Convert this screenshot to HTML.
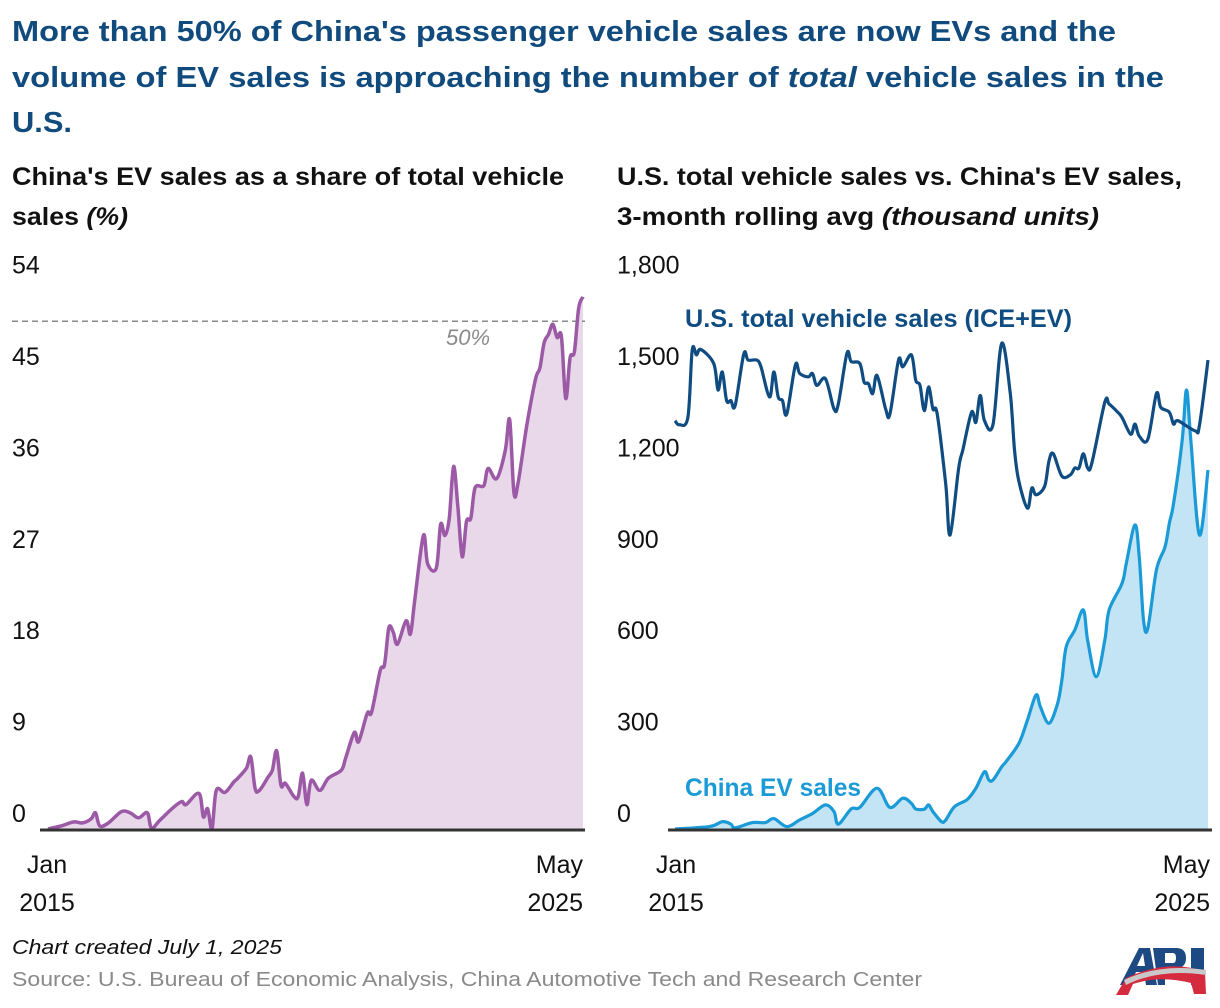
<!DOCTYPE html>
<html><head><meta charset="utf-8"><style>
html,body{margin:0;padding:0;background:#fff;}
svg{display:block;font-family:"Liberation Sans",sans-serif;}
</style></head><body>
<svg id="chart" width="1220" height="1008" viewBox="0 0 1220 1008">
<g fill="#114b7e" font-weight="bold" font-size="29">
<text x="12" y="41" textLength="1104" lengthAdjust="spacingAndGlyphs">More than 50% of China's passenger vehicle sales are now EVs and the</text>
<text x="12" y="87" textLength="1152" lengthAdjust="spacingAndGlyphs">volume of EV sales is approaching the number of <tspan font-style="italic">total</tspan> vehicle sales in the</text>
<text x="12" y="132" textLength="60" lengthAdjust="spacingAndGlyphs">U.S.</text>
</g>
<g font-weight="bold" font-size="25" fill="#111">
<text x="12" y="185" textLength="552" lengthAdjust="spacingAndGlyphs">China's EV sales as a share of total vehicle</text>
<text x="12" y="225" textLength="116" lengthAdjust="spacingAndGlyphs">sales <tspan font-style="italic">(%)</tspan></text>
</g>
<g font-weight="bold" font-size="25" fill="#111">
<text x="617" y="185" textLength="565" lengthAdjust="spacingAndGlyphs">U.S. total vehicle sales vs. China's EV sales,</text>
<text x="617" y="225" textLength="482" lengthAdjust="spacingAndGlyphs">3-month rolling avg <tspan font-style="italic">(thousand units)</tspan></text>
</g>
<g id="left"></g>
<g id="right"></g>
<text x="12" y="954" font-size="20" font-style="italic" fill="#111" textLength="270" lengthAdjust="spacingAndGlyphs">Chart created July 1, 2025</text>
<text x="12" y="986" font-size="20" fill="#8a8a8a" textLength="910" lengthAdjust="spacingAndGlyphs">Source: U.S. Bureau of Economic Analysis, China Automotive Tech and Research Center</text>
<g>
<polygon points="1120,985 1139,948 1150,948 1157,985 1146,985 1144,972 1136,972 1130,985" fill="#1d4a83"/>
<polygon points="1137,966 1143,953 1145,966" fill="#fff"/>
<path d="M1153,948 L1176,948 Q1186,948 1186,958 Q1186,968 1176,968 L1165,968 L1165,985 L1158,985 Z" fill="#1d4a83"/>
<path d="M1165,953 L1173,953 Q1176,953 1176,958 Q1176,963 1173,963 L1165,963 Z" fill="#fff"/>
<rect x="1191" y="948" width="13" height="37" fill="#1d4a83"/>
<path d="M1116,995 L1126,978 Q1160,962 1192,968 L1205,972 L1206,994 L1194,994 L1191,983 Q1160,975 1133,984 L1128,995 Z" fill="#d52b3e"/>
<path d="M1124,980 Q1160,963 1206,970 L1206,975 Q1160,968 1126,985 Z" fill="#c9c9c9"/>
</g>
</svg>
<script>
// ---- Left chart data: China EV share of total vehicle sales (%) ----
const shareMonths = [0,3,6,8,10,11,12,14,17,19,21,23,24,26,29,31,32,35,36,37,38,39,41,43,44,46,47,48,49,51,52,53,54,55,57,58,59,60,61,63,65,68,69,71,72,74,75,77,78,79,80,81,83,84,85,87,88,90,91,92,93,94,95,96,97,98,99,101,102,104,106,107,108,109,111,113,114,115,116,117,118,119,120,121,122,123,124];
const shareValues = [0,0.3,0.7,0.6,1.0,1.6,0.3,0.6,1.7,1.6,1.1,1.6,0.1,0.9,2.1,2.7,2.4,3.5,1.2,2.0,0,3.8,3.6,4.6,5.0,6.0,7.1,4.0,3.8,5.1,5.8,7.7,4.3,4.5,3.2,3.2,5.5,2.4,4.8,3.8,5.0,5.8,7.0,9.5,8.6,11.4,11.5,15.6,16.2,19.8,19.4,18.2,20.5,19.2,22.5,28.9,26.1,25.7,30.0,28.9,30.6,35.7,31.7,26.8,30.3,30.6,33.6,33.8,35.5,34.5,37.3,40.3,33.1,34.2,39.8,44.3,45.4,47.9,48.7,49.7,48.4,48.5,42.4,46.4,47.0,51.3,52.4];
const shareTicks = [0,9,18,27,36,45,54];
// ---- Right chart data (thousand units) ----
const usMonths = [0,1,3,4,5,6,9,10,11,12,13,14,16,17,19,20,22,23,24,25,26,28,29,31,32,33,35,37,38,40,41,43,44,45,46,47,49,50,52,53,55,56,57,58,59,60,61,63,64,66,67,69,70,71,72,74,76,78,79,80,82,83,84,86,87,88,90,92,93,94,95,96,97,100,101,103,104,106,107,108,110,112,113,115,116,117,121,122,124];
const usValues = [1340,1327,1351,1572,1556,1574,1528,1441,1500,1406,1406,1390,1559,1539,1539,1517,1418,1500,1418,1406,1362,1523,1495,1484,1495,1456,1478,1379,1395,1561,1534,1528,1467,1462,1429,1489,1379,1362,1539,1517,1556,1473,1456,1373,1451,1379,1362,1130,965,1185,1246,1368,1335,1423,1340,1329,1594,1429,1241,1141,1053,1119,1097,1125,1208,1232,1158,1163,1185,1185,1232,1185,1202,1401,1395,1368,1351,1296,1329,1290,1279,1429,1384,1368,1329,1340,1307,1324,1539];
const evMonths = [0,8,11,13,14,18,21,23,26,29,32,35,37,38,41,43,47,50,53,55,56,58,59,60,62,63,65,68,70,72,73,74,76,77,80,82,84,85,87,89,90,91,93,95,96,98,100,101,104,105,107,108,109,110,112,114,115,116,118,119,120,122,124];
const evValues = [0,8,24,16,4,21,21,34,8,30,51,79,57,16,66,71,134,71,101,84,66,65,79,57,24,30,73,97,134,188,161,161,204,221,281,358,440,401,347,412,489,598,653,719,620,500,620,719,806,872,998,894,686,659,850,926,1003,1069,1277,1441,1277,965,1178];
const unitTicks = [0,300,600,900,1200,1500,1800];
const tickLabels = ["0","300","600","900","1,200","1,500","1,800"];

const NS = "http://www.w3.org/2000/svg";
function mk(parent, tag, attrs){const e=document.createElementNS(NS,tag);for(const k in attrs)e.setAttribute(k,attrs[k]);parent.appendChild(e);return e;}
function smooth(pts){
  let d="M"+pts[0][0].toFixed(1)+","+pts[0][1].toFixed(1);
  for(let i=0;i<pts.length-1;i++){
    const p0=pts[Math.max(0,i-1)],p1=pts[i],p2=pts[i+1],p3=pts[Math.min(pts.length-1,i+2)];
    const t=0.5/3;
    d+=" C"+(p1[0]+(p2[0]-p0[0])*t).toFixed(1)+","+(p1[1]+(p2[1]-p0[1])*t).toFixed(1)+" "+(p2[0]-(p3[0]-p1[0])*t).toFixed(1)+","+(p2[1]-(p3[1]-p1[1])*t).toFixed(1)+" "+p2[0].toFixed(1)+","+p2[1].toFixed(1);
  }
  return d;
}
const Y0=829;
// Left chart
const L=document.getElementById('left');


const lx=m=>48+m*(583-48)/124;
const ly=v=>Y0-v*(91.4/9);
shareTicks.forEach(t=>{
  const tx=mk(L,'text',{x:12,y:ly(t)-7,'font-size':25,fill:'#111'});
  tx.textContent=String(t);
  
  
});
const lp=shareMonths.map((m,i)=>[lx(m),ly(shareValues[i])]);
const ld=smooth(lp);
const la=mk(L,'path',{d:ld+" L"+lx(124)+","+Y0+" L"+lx(0)+","+Y0+" Z",fill:'#e8d8ea'});


const ref=mk(L,'line',{x1:12,x2:585,y1:ly(50),y2:ly(50),stroke:'#8a8a8a','stroke-width':1.5,'stroke-dasharray':'6,4'});


const rl=mk(L,'text',{x:446,y:ly(50)+24,'font-size':22,'font-style':'italic',fill:'#8a8a8a'});
rl.textContent='50%';


const ll=mk(L,'path',{d:ld,fill:'none',stroke:'#9b59a6','stroke-width':3.5,'stroke-linejoin':'round'});


const lax=mk(L,'line',{x1:40,x2:585,y1:Y0+1,y2:Y0+1,stroke:'#333','stroke-width':3});


[["Jan",47,"middle",873],["2015",47,"middle",911],["May",583,"end",873],["2025",583,"end",911]].forEach(a=>{
  const t=mk(L,'text',{x:a[1],y:a[3],'text-anchor':a[2],'font-size':25,fill:'#111'});
  t.textContent=a[0];
  
  
});
// Right chart
const R=document.getElementById('right');


const rx=m=>675+m*(1208-675)/124;
const ry=v=>Y0-v*(91.4/300);
unitTicks.forEach((t,i)=>{
  const tx=mk(R,'text',{x:617,y:ry(t)-7,'font-size':25,fill:'#111'});
  tx.textContent=tickLabels[i];
  
  
});
const ep=evMonths.map((m,i)=>[rx(m),ry(evValues[i])]);
const ed=smooth(ep);
const ea=mk(R,'path',{d:ed+" L"+rx(124)+","+Y0+" L"+rx(0)+","+Y0+" Z",fill:'#c3e4f4'});


const el2=mk(R,'path',{d:ed,fill:'none',stroke:'#1a9ad6','stroke-width':3.2,'stroke-linejoin':'round'});


const up=usMonths.map((m,i)=>[rx(m),ry(usValues[i])]);
const ul=mk(R,'path',{d:smooth(up),fill:'none',stroke:'#0f4c81','stroke-width':3.2,'stroke-linejoin':'round'});


const rax=mk(R,'line',{x1:668,x2:1212,y1:Y0+1,y2:Y0+1,stroke:'#333','stroke-width':3});


[["Jan",676,"middle",873],["2015",676,"middle",911],["May",1210,"end",873],["2025",1210,"end",911]].forEach(a=>{
  const t=mk(R,'text',{x:a[1],y:a[3],'text-anchor':a[2],'font-size':25,fill:'#111'});
  t.textContent=a[0];
  
  
});
const usl=mk(R,'text',{x:685,y:327,'font-size':25,'font-weight':'bold',fill:'#0f4c81',textLength:387,lengthAdjust:'spacingAndGlyphs'});
usl.textContent='U.S. total vehicle sales (ICE+EV)';


const evl=mk(R,'text',{x:685,y:796,'font-size':25,'font-weight':'bold',fill:'#1a9ad6',textLength:176,lengthAdjust:'spacingAndGlyphs'});
evl.textContent='China EV sales';


</script>
</body></html>
